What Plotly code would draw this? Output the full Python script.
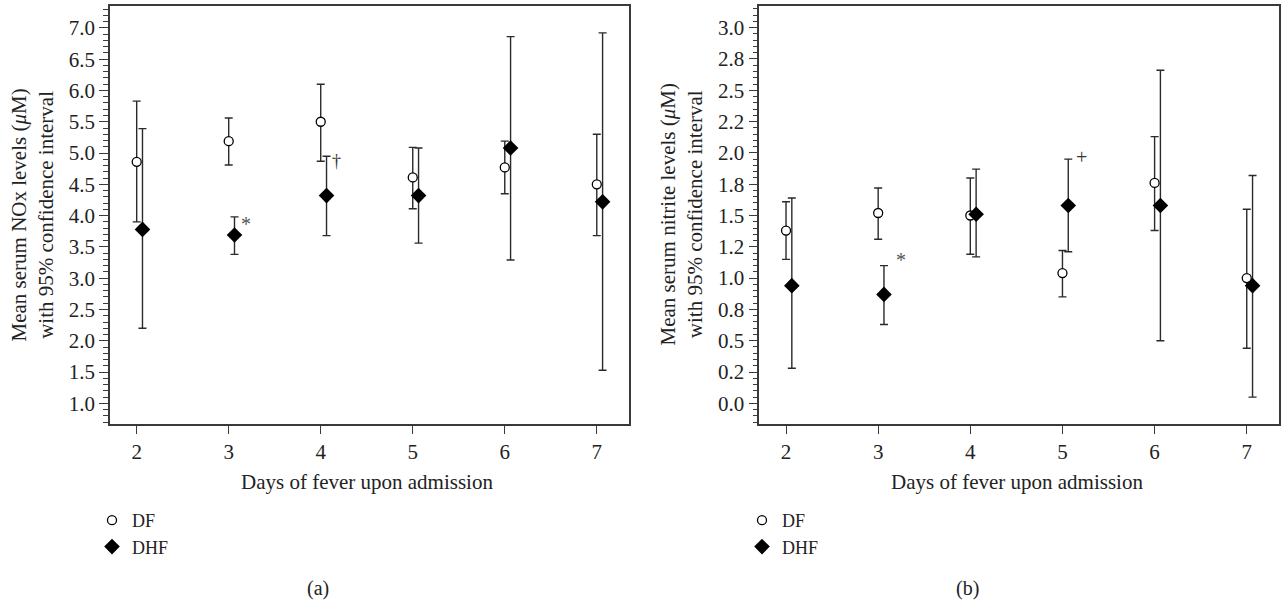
import plotly.graph_objects as go

# ---------------- data ----------------
days = [2, 3, 4, 5, 6, 7]

# Panel (a): NOx (uM)
nox_df_mean = [4.86, 5.19, 5.50, 4.61, 4.77, 4.50]
nox_df_upper = [5.83, 5.56, 6.10, 5.09, 5.19, 5.30]
nox_df_lower = [3.90, 4.81, 4.87, 4.11, 4.35, 3.68]
nox_dhf_mean = [3.78, 3.69, 4.32, 4.32, 5.08, 4.22]
nox_dhf_upper = [5.39, 3.98, 4.95, 5.08, 6.86, 6.92]
nox_dhf_lower = [2.20, 3.38, 3.68, 3.56, 3.29, 1.53]

# Panel (b): nitrite (uM)
nit_df_mean = [1.38, 1.52, 1.50, 1.04, 1.76, 1.00]
nit_df_upper = [1.61, 1.72, 1.80, 1.22, 2.13, 1.55]
nit_df_lower = [1.15, 1.31, 1.19, 0.85, 1.38, 0.44]
nit_dhf_mean = [0.94, 0.87, 1.51, 1.58, 1.58, 0.94]
nit_dhf_upper = [1.64, 1.10, 1.87, 1.95, 2.66, 1.82]
nit_dhf_lower = [0.28, 0.63, 1.17, 1.21, 0.50, 0.05]

nit_tickvals = [0.0, 0.25, 0.5, 0.75, 1.0, 1.25, 1.5, 1.75, 2.0, 2.25, 2.5, 2.75, 3.0]
nit_ticktext = ["0.0", "0.2", "0.5", "0.8", "1.0", "1.2", "1.5", "1.8", "2.0", "2.2", "2.5", "2.8", "3.0"]

series_names = ["DF", "DHF"]

# ---------------- style ----------------
FONT = "Liberation Serif"
INK = "#222222"
AXC = "#3a3a3a"
DF_OFF = 0.0
DHF_OFF = 0.063
W, H = 1281, 601


def px_x(p):
    return p / W


def px_y(p):
    return (H - p) / H


def err(mean, up, lo):
    return dict(type="data", symmetric=False,
                array=[u - m for u, m in zip(up, mean)],
                arrayminus=[m - l for m, l in zip(mean, lo)],
                color="#2a2a2a", thickness=1.4, width=4)


fig = go.Figure()

panels = [
    ("x", "y", "legend", nox_df_mean, nox_df_upper, nox_df_lower,
     nox_dhf_mean, nox_dhf_upper, nox_dhf_lower),
    ("x2", "y2", "legend2", nit_df_mean, nit_df_upper, nit_df_lower,
     nit_dhf_mean, nit_dhf_upper, nit_dhf_lower),
]

for xa, ya, lg, dm, du, dl, hm, hu, hl in panels:
    fig.add_trace(go.Scatter(
        x=[d + DF_OFF for d in days], y=dm, mode="markers", name=series_names[0],
        xaxis=xa, yaxis=ya, legend=lg,
        marker=dict(symbol="circle", size=9, color="white",
                    line=dict(color="black", width=1.3)),
        error_y=err(dm, du, dl)))
    fig.add_trace(go.Scatter(
        x=[d + DHF_OFF for d in days], y=hm, mode="markers", name=series_names[1],
        xaxis=xa, yaxis=ya, legend=lg,
        marker=dict(symbol="diamond", size=12, color="black",
                    line=dict(color="black", width=0)),
        error_y=err(hm, hu, hl)))

TICKFONT = dict(family=FONT, size=21, color=INK)
xaxis_common = dict(
    range=[1.71, 7.35], tickmode="array", tickvals=days,
    ticks="outside", ticklen=8, tickwidth=1.3, tickcolor=AXC,
    showline=True, mirror=True, linecolor=AXC, linewidth=1.5,
    showgrid=False, zeroline=False, tickfont=TICKFONT,
)
yaxis_common = dict(
    ticks="outside", ticklen=9, tickwidth=1.3, tickcolor=AXC,
    showline=True, mirror=True, linecolor=AXC, linewidth=1.5,
    showgrid=False, zeroline=False, tickfont=TICKFONT,
    domain=[px_y(424), px_y(6)],
)

LEGFONT = dict(family=FONT, size=18, color=INK)
fig.update_layout(
    width=W, height=H,
    margin=dict(l=0, r=0, t=0, b=0),
    paper_bgcolor="white", plot_bgcolor="white",
    font=dict(family=FONT, size=21, color=INK),
    xaxis=dict(xaxis_common, domain=[px_x(110), px_x(629)], anchor="y"),
    xaxis2=dict(xaxis_common, domain=[px_x(759.3), px_x(1279)], anchor="y2"),
    yaxis=dict(yaxis_common, anchor="x", range=[0.67, 7.35],
               tickmode="linear", tick0=1.0, dtick=0.5, tickformat=".1f",
               minor=dict(dtick=0.1, tick0=0, ticklen=5, tickwidth=1.1,
                          tickcolor=AXC, ticks="outside")),
    yaxis2=dict(yaxis_common, anchor="x2", range=[-0.165, 3.173],
                tickmode="array", tickvals=nit_tickvals, ticktext=nit_ticktext,
                minor=dict(dtick=0.05, tick0=0, ticklen=5, tickwidth=1.1,
                           tickcolor=AXC, ticks="outside")),
    showlegend=True,
    legend=dict(x=px_x(92), y=px_y(502), xanchor="left", yanchor="top",
                bgcolor="rgba(0,0,0,0)", font=LEGFONT, tracegroupgap=0),
    legend2=dict(x=px_x(742), y=px_y(502), xanchor="left", yanchor="top",
                 bgcolor="rgba(0,0,0,0)", font=LEGFONT, tracegroupgap=0),
)

ann = []
# y axis titles
ann.append(dict(text="Mean serum NOx levels (<i>μ</i>M)<br>with 95% confidence interval",
                x=px_x(31.5), y=px_y(215), xref="paper", yref="paper",
                textangle=-90, showarrow=False, xanchor="center", yanchor="middle",
                font=dict(family=FONT, size=21, color=INK)))
ann.append(dict(text="Mean serum nitrite levels (<i>μ</i>M)<br>with 95% confidence interval",
                x=px_x(680.5), y=px_y(215), xref="paper", yref="paper",
                textangle=-90, showarrow=False, xanchor="center", yanchor="middle",
                font=dict(family=FONT, size=21, color=INK)))
# x axis titles
for cx in (367, 1017):
    ann.append(dict(text="Days of fever upon admission", x=px_x(cx), y=px_y(482),
                    xref="paper", yref="paper", showarrow=False,
                    xanchor="center", yanchor="middle",
                    font=dict(family=FONT, size=21, color=INK)))
# panel labels
ann.append(dict(text="(a)", x=px_x(318), y=px_y(588), xref="paper", yref="paper",
                showarrow=False, xanchor="center", yanchor="middle",
                font=dict(family=FONT, size=20, color=INK)))
ann.append(dict(text="(b)", x=px_x(968), y=px_y(588), xref="paper", yref="paper",
                showarrow=False, xanchor="center", yanchor="middle",
                font=dict(family=FONT, size=20, color=INK)))
# significance marks
ann.append(dict(text="*", x=3.185, y=3.86, xref="x", yref="y", showarrow=False,
                font=dict(family=FONT, size=20, color="#555555")))
ann.append(dict(text="†", x=4.166, y=4.87, xref="x", yref="y", showarrow=False,
                font=dict(family=FONT, size=18, color="#333333")))
ann.append(dict(text="*", x=3.253, y=1.145, xref="x2", yref="y2", showarrow=False,
                font=dict(family=FONT, size=20, color="#555555")))
ann.append(dict(text="+", x=5.207, y=1.97, xref="x2", yref="y2", showarrow=False,
                font=dict(family=FONT, size=20, color="#333333")))
fig.update_layout(annotations=ann)

fig.write_html("out.html", config={"displayModeBar": False},
               post_script="document.body.style.margin='0';document.body.style.overflow='hidden';")
